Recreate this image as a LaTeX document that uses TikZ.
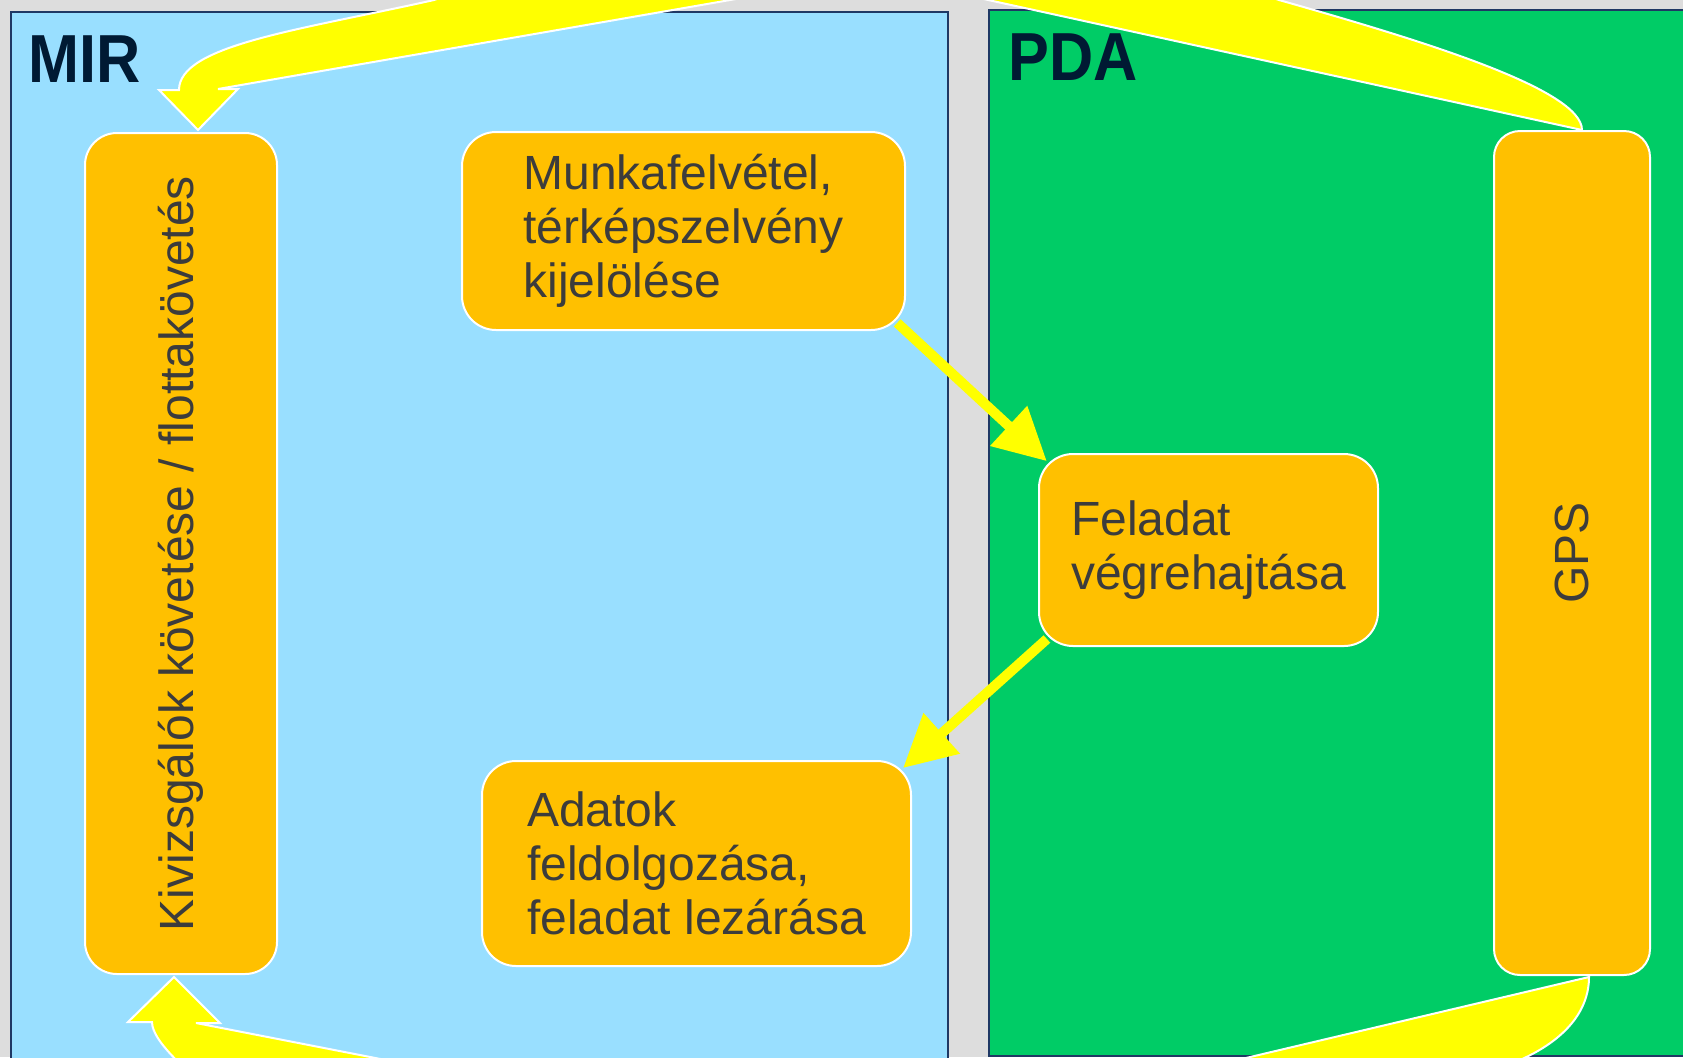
\documentclass[tikz,border=0pt]{standalone}
\usepackage{fontspec}
\setmainfont{Liberation Sans}
\usepackage{graphicx}
\usetikzlibrary{arrows.meta}

\definecolor{bggray}{HTML}{DDDDDD}
\definecolor{mirblue}{HTML}{99DFFF}
\definecolor{pdagreen}{HTML}{00CC66}
\definecolor{boxorange}{HTML}{FFC000}
\definecolor{arrowyellow}{HTML}{FFFF00}
\definecolor{panelnavy}{HTML}{1F3864}
\definecolor{titlenavy}{HTML}{001A33}
\definecolor{textgray}{HTML}{3C3C3C}

\begin{document}
\begin{tikzpicture}[x=0.5pt,y=-0.5pt,
  panel/.style={draw=panelnavy,line width=0.8pt},
  title/.style={font=\fontsize{34}{38}\selectfont\bfseries,text=titlenavy,anchor=base west,inner sep=0pt,xscale=0.9},
  task/.style={draw=white,line width=1pt,fill=boxorange,text=textgray,font=\fontsize{24}{27}\selectfont,align=left,rounded corners=17pt},
  flow/.style={draw=arrowyellow,line width=5pt,-{Triangle[width=26pt,length=26pt]},shorten <=-6pt,shorten >=-6pt},
  bigarrow/.style={fill=arrowyellow,draw=white,line width=1pt}]
\useasboundingbox (0,0) rectangle (1683,1057);
\fill[bggray] (0,0) rectangle (1683,1057);
\begin{scope}
\clip (0,0) rectangle (1683,1057);
% panels
\draw[panel,fill=mirblue] (11,12) rectangle (948,1070);
\draw[panel,fill=pdagreen] (989,10) rectangle (1700,1056);
\node[title] (mirlabel) at (28.5,82) {MIR};
\node[title] (pdalabel) at (1008.5,80) {PDA};

% tasks
\node[task,minimum width=96pt,minimum height=420.5pt,rounded corners=16pt] (kiv) at (181,553.5)
  {\rotatebox{90}{Kivizsgálók követése / flottakövetés}};
\node[task,minimum width=221.5pt,minimum height=99pt] (munka) at (683.5,231)
  {Munkafelvétel,\\térképszelvény\\kijelölése};
\node[task,minimum width=169.5pt,minimum height=96pt] (feladat) at (1208.5,550)
  {Feladat\\végrehajtása};
\node[task,minimum width=214.5pt,minimum height=102.5pt] (adatok) at (696.5,863.5)
  {Adatok\\feldolgozása,\\feladat lezárása};
\node[task,minimum width=78pt,minimum height=422pt,rounded corners=13pt] (gps) at (1572,553)
  {\rotatebox{90}{GPS}};

% GPS -> MIR, over the top
\draw[bigarrow] ([shift={(17,-2)}]kiv.north) -- ++(40,-41) -- ++(-20,0) -- (874,-25)
  -- ([shift={(10,0)}]gps.north) .. controls ++(0,-41) and (1420,40) .. (1279,0)
  -- (1100,-60) -- (600,-60) -- (434,0) .. controls (300,30) and (179,45) .. (179,90)
  -- ++(-20,0) -- cycle;
% GPS -> MIR, under the bottom
\draw[bigarrow] ([shift={(-7,2)}]kiv.south) -- ++(46,46) -- ++(-24,0) -- (852,1151)
  -- ([shift={(17,1)}]gps.south) .. controls ++(0,34) and (1565,1040) .. (1520,1060)
  -- (1400,1140) -- (300,1140) -- (240,1115) .. controls (190,1075) and (152,1042) .. (152,1022)
  -- ++(-24,0) -- cycle;

\draw[flow] (munka.south east) -- (feladat.north west);
\draw[flow] (feladat.south west) -- (adatok.north east);
\end{scope}
\end{tikzpicture}
\end{document}
